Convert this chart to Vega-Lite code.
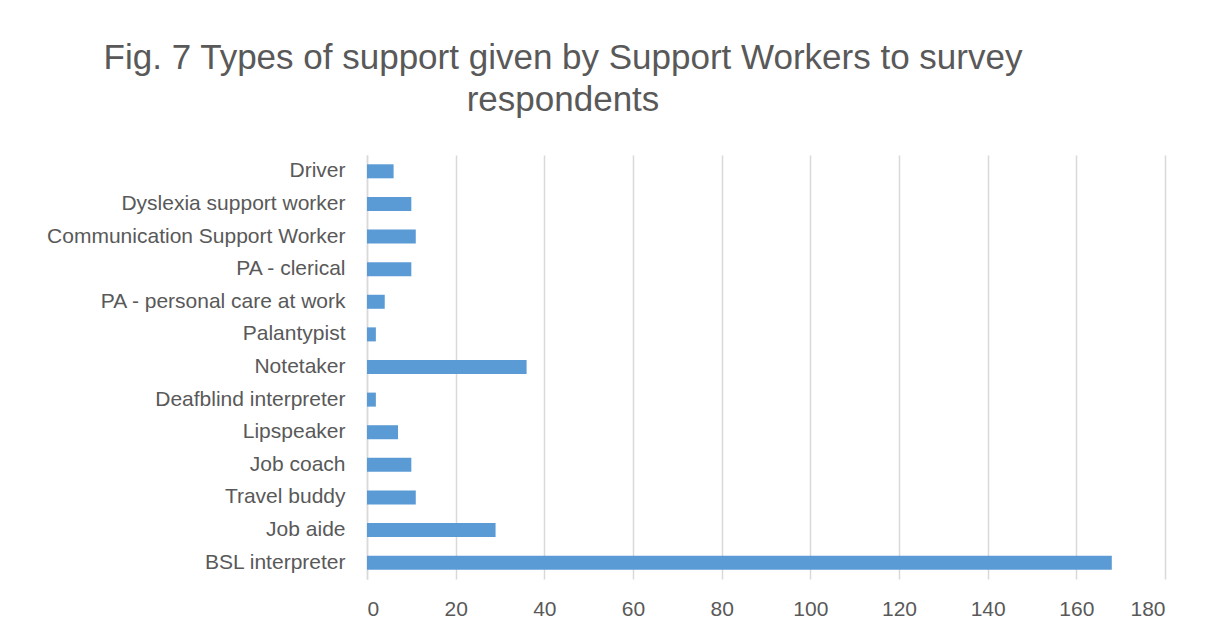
{
  "$schema": "https://vega.github.io/schema/vega-lite/v6.json",
  "autosize": {"type": "none"},
  "width": 798,
  "height": 424,
  "padding": {"left": 367, "top": 155, "right": 41, "bottom": 55},
  "background": "white",
  "config": {"view": {"stroke": null}, "font": "Liberation Sans"},
  "title": {
    "text": ["Fig. 7 Types of support given by Support Workers to survey", "respondents"],
    "anchor": "middle",
    "frame": "group",
    "dx": -203,
    "offset": 37,
    "fontSize": 35,
    "fontWeight": "normal",
    "color": "#595959",
    "lineHeight": 42,
    "font": "Liberation Sans"
  },
  "data": {
    "values": [
      {"type": "Driver", "count": 6},
      {"type": "Dyslexia support worker", "count": 10},
      {"type": "Communication Support Worker", "count": 11},
      {"type": "PA - clerical", "count": 10},
      {"type": "PA - personal care at work", "count": 4},
      {"type": "Palantypist", "count": 2},
      {"type": "Notetaker", "count": 36},
      {"type": "Deafblind interpreter", "count": 2},
      {"type": "Lipspeaker", "count": 7},
      {"type": "Job coach", "count": 10},
      {"type": "Travel buddy", "count": 11},
      {"type": "Job aide", "count": 29},
      {"type": "BSL interpreter", "count": 168}
    ]
  },
  "mark": {"type": "bar", "color": "#5b9bd5"},
  "encoding": {
    "y": {
      "field": "type",
      "type": "nominal",
      "sort": null,
      "scale": {"paddingInner": 0.57, "paddingOuter": 0.285},
      "axis": {
        "title": null,
        "ticks": false,
        "domain": true,
        "domainColor": "#d9d9d9",
        "domainWidth": 1.5,
        "labelPadding": 22,
        "labelFontSize": 21,
        "labelColor": "#595959",
        "labelFont": "Liberation Sans",
        "labelLimit": 400
      }
    },
    "x": {
      "field": "count",
      "type": "quantitative",
      "scale": {"domain": [0, 180], "nice": false},
      "axis": {
        "title": null,
        "values": [0, 20, 40, 60, 80, 100, 120, 140, 160, 180],
        "ticks": false,
        "domain": false,
        "grid": true,
        "gridColor": "#d9d9d9",
        "gridWidth": 1.5,
        "labelPadding": 19,
        "labelFontSize": 21,
        "labelColor": "#595959",
        "labelFont": "Liberation Sans"
      }
    }
  }
}
